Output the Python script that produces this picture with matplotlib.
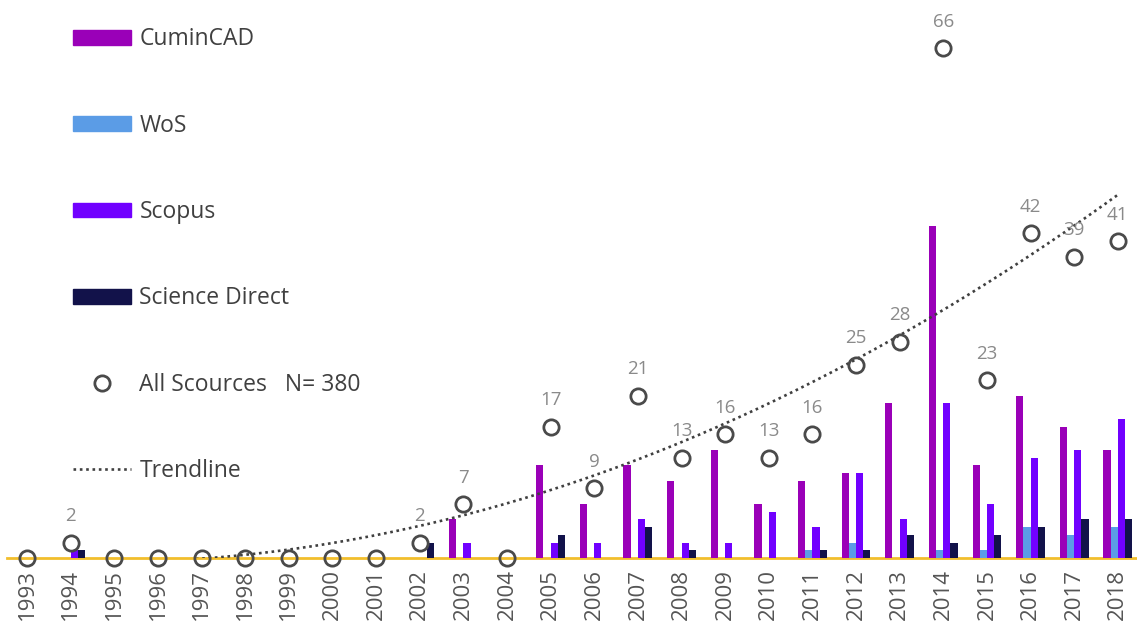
import matplotlib
matplotlib.use("Agg")
import matplotlib.pyplot as plt
import numpy as np
from matplotlib.patches import Patch
from matplotlib.lines import Line2D

plt.rcParams["font.family"] = ["Open Sans", "DejaVu Sans"]

years = list(range(1993, 2019))
cumincad = [0, 0, 0, 0, 0, 0, 0, 0, 0, 0, 5, 0, 12, 7, 12, 10, 14, 7, 10, 11, 20, 43, 12, 21, 17, 14]
wos = [0, 0, 0, 0, 0, 0, 0, 0, 0, 0, 0, 0, 0, 0, 0, 0, 0, 0, 1, 2, 0, 1, 1, 4, 3, 4]
scopus = [0, 1, 0, 0, 0, 0, 0, 0, 0, 0, 2, 0, 2, 2, 5, 2, 2, 6, 4, 11, 5, 20, 7, 13, 14, 18]
science_direct = [0, 1, 0, 0, 0, 0, 0, 0, 0, 2, 0, 0, 3, 0, 4, 1, 0, 0, 1, 1, 3, 2, 3, 4, 5, 5]

series = [
    ("CuminCAD", cumincad, "#9a00b8"),
    ("WoS", wos, "#5b9ce6"),
    ("Scopus", scopus, "#7100ff"),
    ("Science Direct", science_direct, "#12124a"),
]

totals = np.sum([cumincad, wos, scopus, science_direct], axis=0)
x = np.arange(len(years))

fig = plt.figure(figsize=(11.37, 6.28), dpi=100)
ax = fig.add_axes([7 / 1137, 70 / 628, 1130 / 1137, 558 / 628])

bar_w = 0.165
for i, (name, vals, color) in enumerate(series):
    ax.bar(x + (i - 1.5) * bar_w, vals, width=bar_w, color=color, zorder=2)

# quadratic trend over all years, drawn from 1996 on (clipped at zero)
coef = np.polyfit(x, totals, 2)
xt = np.linspace(3, 25, 200)
ax.plot(xt, np.polyval(coef, xt), color="#404040", linestyle=(0, (1, 1.4)),
        linewidth=1.9, zorder=3)

ax.plot(x, totals, "o", markersize=11, markerfacecolor="none",
        markeredgecolor="#4a4a4a", markeredgewidth=2, zorder=4, clip_on=False)
for xi, t in zip(x, totals):
    if t > 0:
        ax.annotate(str(t), (xi, t), xytext=(0, 19), textcoords="offset points",
                    ha="center", va="center", fontsize=13.5, color="#8a8a8a")

ax.set_xlim(-0.46, 25.44)
ax.set_ylim(0, 72.2)
ax.set_xticks(x)
ax.set_xticklabels(years, rotation=90, fontsize=16, color="#555555")
ax.tick_params(axis="x", length=0, pad=8)
ax.set_yticks([])
for s in ["top", "right", "left"]:
    ax.spines[s].set_visible(False)
ax.spines["bottom"].set_color("#f2be2c")
ax.spines["bottom"].set_linewidth(2)
ax.spines["bottom"].set_zorder(1)

handles = [Patch(color=c) for _, _, c in series]
handles.append(Line2D([], [], marker="o", linestyle="none", markersize=11,
                      markerfacecolor="none", markeredgecolor="#4a4a4a",
                      markeredgewidth=2))
handles.append(Line2D([], [], color="#404040", linestyle=(0, (1, 1.4)), linewidth=1.9))
labels = [n for n, _, _ in series] + ["All Scources   N= 380", "Trendline"]
ax.legend(handles, labels, loc="upper left", bbox_to_anchor=(0.038, 0.992),
          frameon=False, fontsize=16.5, labelcolor="#404040",
          handlelength=2.55, handleheight=0.6, handletextpad=0.35,
          labelspacing=2.72, borderaxespad=0.6)

fig.savefig("out.png", dpi=100)
